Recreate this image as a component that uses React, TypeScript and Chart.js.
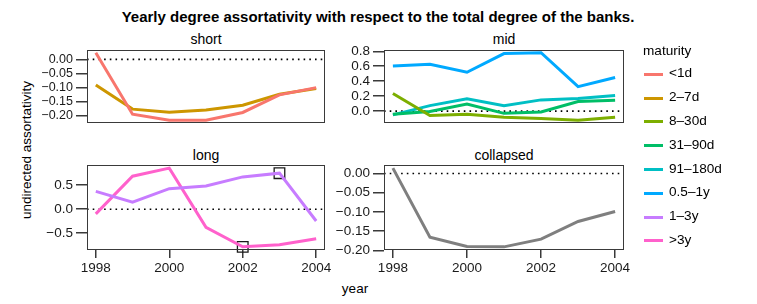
import React, { useEffect, useRef } from "react";
import { Chart, registerables } from "chart.js";
Chart.register(...registerables);

// ---------------- data ----------------
const years = [1998, 1999, 2000, 2001, 2002, 2003, 2004];
const lt1d = [0.024, -0.196, -0.218, -0.218, -0.19, -0.127, -0.101];
const d2to7 = [-0.092, -0.178, -0.189, -0.181, -0.164, -0.125, -0.104];
const d8to30 = [0.235, -0.058, -0.042, -0.081, -0.1, -0.123, -0.081];
const d31to90 = [-0.042, -0.004, 0.096, -0.03, -0.012, 0.127, 0.146];
const d91to180 = [-0.05, 0.073, 0.165, 0.073, 0.15, 0.169, 0.21];
const y05to1 = [0.604, 0.627, 0.519, 0.769, 0.781, 0.327, 0.45];
const y1to3 = [0.371, 0.147, 0.427, 0.483, 0.671, 0.748, -0.245];
const gt3y = [-0.098, 0.685, 0.853, -0.378, -0.783, -0.741, -0.615];
const collapsedVals = [0.014, -0.166, -0.19, -0.191, -0.171, -0.125, -0.099];
const highlightYears = [2002, 2003];
const highlightValues = [-0.783, 0.748];

const maturityLabels = ["<1d", "2–7d", "8–30d", "31–90d", "91–180d", "0.5–1y", "1–3y", ">3y"];
const maturityColors = ["#F8766D", "#CD9600", "#7CAE00", "#00BE67", "#00BFC4", "#00A9FF", "#C77CFF", "#FF61CC"];
const collapsedColor = "#7f7f7f";

const shortTicks = [0, -0.05, -0.1, -0.15, -0.2];
const midTicks = [0, 0.2, 0.4, 0.6, 0.8];
const longTicks = [-0.5, 0, 0.5];
const collapsedTicks = [0, -0.05, -0.1, -0.15, -0.2];
const yearTicks = [1998, 2000, 2002, 2004];

const FONT = "'Liberation Sans', Arial, Helvetica, sans-serif";

type Series = { values: number[]; color: string };
type Box = { x: number; y: number; w: number; h: number };

function extent(vals: number[]): [number, number] {
  const mn = Math.min(...vals);
  const mx = Math.max(...vals);
  const pad = (mx - mn) * 0.04;
  return [mn - pad, mx + pad];
}

const fmt = (v: number, d: number) => {
  const s = Math.abs(v) < 1e-9 ? (0).toFixed(d) : v.toFixed(d);
  return s.replace("-", "−");
};

const PL = 70;
const PT = 12;
const PR = 30;

function Panel(props: {
  box: Box;
  series: Series[];
  yTicks: number[];
  decimals: number;
  showX: boolean;
  yFont: number;
  hl?: { x: number[]; y: number[] };
}) {
  const ref = useRef<HTMLCanvasElement | null>(null);
  const { box, series, yTicks, decimals, showX, hl, yFont } = props;
  const PB = showX ? 34 : 12;
  useEffect(() => {
    const all = series.flatMap((s) => s.values);
    const [ymin, ymax] = extent(all);
    const [xmin, xmax] = extent(years);
    const datasets: any[] = series.map((s) => ({
      type: "line",
      data: years.map((x, i) => ({ x, y: s.values[i] })),
      borderColor: s.color,
      borderWidth: 3,
      pointRadius: 0,
      tension: 0,
      fill: false,
    }));
    if (hl) {
      datasets.push({
        type: "scatter",
        data: hl.x.map((x, i) => ({ x, y: hl.y[i] })),
        pointStyle: "rect",
        pointRadius: 7.5,
        borderColor: "#1a1a1a",
        borderWidth: 1.3,
        backgroundColor: "rgba(0,0,0,0)",
        clip: false,
        showLine: false,
      });
    }
    const boxPlugin = {
      id: "box",
      beforeDatasetsDraw(chart: any) {
        const { ctx, chartArea } = chart;
        const yPix = chart.scales.y.getPixelForValue(0);
        ctx.save();
        ctx.strokeStyle = "#000";
        ctx.lineWidth = 1.6;
        ctx.setLineDash([1.6, 4.1]);
        ctx.beginPath();
        ctx.moveTo(chartArea.left, yPix);
        ctx.lineTo(chartArea.right, yPix);
        ctx.stroke();
        ctx.restore();
      },
      afterDraw(chart: any) {
        const { ctx, chartArea } = chart;
        ctx.save();
        ctx.strokeStyle = "#3a3a3a";
        ctx.lineWidth = 1;
        ctx.strokeRect(
          Math.round(chartArea.left) + 0.5,
          Math.round(chartArea.top) + 0.5,
          Math.round(chartArea.right - chartArea.left) - 1,
          Math.round(chartArea.bottom - chartArea.top) - 1
        );
        // tick labels from the scales' own ticks
        ctx.fillStyle = "#1a1a1a";
        const ys = chart.scales.y;
        ctx.font = `${yFont}px ${FONT}`;
        ctx.textAlign = "right";
        ctx.textBaseline = "middle";
        ys.ticks.forEach((t: any) => {
          const py = ys.getPixelForValue(t.value);
          ctx.fillText(fmt(t.value, decimals), chartArea.left - 14, py);
        });
        if (showX) {
          const xs = chart.scales.x;
          ctx.font = `13.5px ${FONT}`;
          ctx.textAlign = "center";
          xs.ticks.forEach((t: any) => {
            const px = xs.getPixelForValue(t.value);
            ctx.fillText(String(t.value), px, chartArea.bottom + 18);
          });
        }
        ctx.restore();
      },
    };
    const chart = new Chart(ref.current as HTMLCanvasElement, {
      type: "line",
      data: { datasets },
      options: {
        animation: false,
        responsive: false,
        maintainAspectRatio: false,
        layout: {
          autoPadding: false,
          padding: { left: 0, top: PT, right: PR, bottom: showX ? 0 : PB },
        },
        plugins: { legend: { display: false }, tooltip: { enabled: false }, title: { display: false } },
        scales: {
          x: {
            type: "linear",
            min: xmin,
            max: xmax,
            display: showX,
            afterFit: (s: any) => {
              s.height = PB;
            },
            afterBuildTicks: (s: any) => {
              s.ticks = yearTicks.map((v) => ({ value: v }));
            },
            ticks: { display: false, autoSkip: false, maxRotation: 0 },
            grid: { drawOnChartArea: false, tickLength: 8, color: "#3a3a3a", lineWidth: 1.5 },
            border: { display: false },
          },
          y: {
            type: "linear",
            min: ymin,
            max: ymax,
            position: "left",
            afterFit: (s: any) => {
              s.width = PL;
            },
            afterBuildTicks: (s: any) => {
              s.ticks = yTicks.map((v) => ({ value: v }));
            },
            ticks: { display: false, autoSkip: false },
            grid: { drawOnChartArea: false, tickLength: 11, color: "#3a3a3a", lineWidth: 1.5 },
            border: { display: false },
          },
        },
      },
      plugins: [boxPlugin],
    } as any);
    return () => chart.destroy();
  }, []);
  const W = PL + box.w + PR;
  const H = PT + box.h + PB;
  return (
    <canvas
      ref={ref}
      width={W}
      height={H}
      style={{ position: "absolute", left: box.x - PL, top: box.y - PT, width: W, height: H }}
    />
  );
}

const Txt = (p: { x: number; y: number; text: string; size?: number; bold?: boolean; rot?: boolean; anchor?: "c" | "l" }) => (
  <div
    style={{
      position: "absolute",
      left: p.x,
      top: p.y,
      transform: `translate(${p.anchor === "l" ? "0" : "-50%"}, -50%)${p.rot ? " rotate(-90deg)" : ""}`,
      transformOrigin: p.anchor === "l" ? "left center" : "center center",
      fontFamily: FONT,
      fontSize: p.size ?? 14,
      fontWeight: p.bold ? "bold" : "normal",
      whiteSpace: "nowrap",
      lineHeight: 1,
      color: "#000",
    }}
  >
    {p.text}
  </div>
);

export default function App() {
  const shortBox = { x: 87, y: 50, w: 238, h: 85 };
  const midBox = { x: 384, y: 50, w: 240, h: 85 };
  const longBox = { x: 87, y: 165, w: 238, h: 85 };
  const collBox = { x: 384, y: 165, w: 240, h: 85 };
  return (
    <div style={{ position: "fixed", left: 0, top: 0, width: 757, height: 304, background: "#fff", overflow: "hidden" }}>
      <Txt x={378} y={16} text="Yearly degree assortativity with respect to the total degree of the banks." bold size={15} />
      <Txt x={206} y={39} text="short" />
      <Txt x={504} y={39} text="mid" />
      <Txt x={206} y={155} text="long" />
      <Txt x={504} y={155} text="collapsed" />
      <Txt x={27} y={150} text="undirected assortativity" rot size={13.5} />
      <Txt x={355} y={289} text="year" size={13.5} />
      <Panel
        box={shortBox}
        series={[
          { values: lt1d, color: maturityColors[0] },
          { values: d2to7, color: maturityColors[1] },
        ]}
        yTicks={shortTicks}
        decimals={2}
        showX={false}
        yFont={12.5}
      />
      <Panel
        box={midBox}
        series={[
          { values: d8to30, color: maturityColors[2] },
          { values: d31to90, color: maturityColors[3] },
          { values: d91to180, color: maturityColors[4] },
          { values: y05to1, color: maturityColors[5] },
        ]}
        yTicks={midTicks}
        decimals={1}
        showX={false}
        yFont={13.5}
      />
      <Panel
        box={longBox}
        series={[
          { values: y1to3, color: maturityColors[6] },
          { values: gt3y, color: maturityColors[7] },
        ]}
        yTicks={longTicks}
        decimals={1}
        showX={true}
        yFont={13.5}
        hl={{ x: highlightYears, y: highlightValues }}
      />
      <Panel
        box={collBox}
        series={[{ values: collapsedVals, color: collapsedColor }]}
        yTicks={collapsedTicks}
        decimals={2}
        showX={true}
        yFont={13.5}
      />
      <Txt x={643} y={51} text="maturity" anchor="l" size={13.6} />
      {maturityLabels.map((lab, i) => (
        <React.Fragment key={lab}>
          <div
            style={{
              position: "absolute",
              left: 644,
              top: 74.3 + i * 23.8 - 1.5,
              width: 19,
              height: 3,
              background: maturityColors[i],
            }}
          />
          <Txt x={669} y={74.3 + i * 23.8 - 1} text={lab} anchor="l" size={13.6} />
        </React.Fragment>
      ))}
    </div>
  );
}
